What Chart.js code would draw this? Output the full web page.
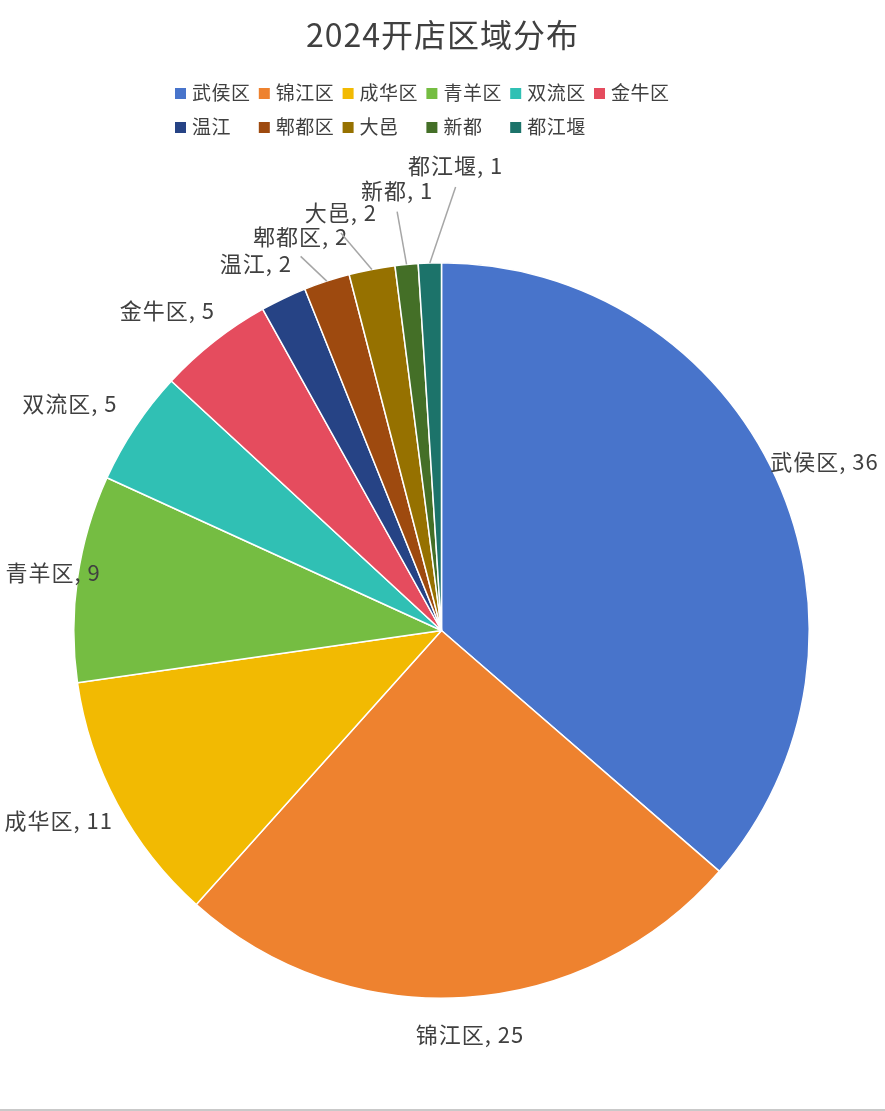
<!DOCTYPE html>
<html>
<head>
<meta charset="utf-8">
<script src="https://cdn.jsdelivr.net/npm/chart.js@4.4.1/dist/chart.umd.min.js"></script>
<style>
html, body { margin: 0; padding: 0; background: #fff; }
#wrap { width: 885px; height: 1111px; position: relative; overflow: hidden; }
#wrap:after { content: ''; position: absolute; left: 0; right: 0; bottom: 0; height: 2px; background: #c9c9c9; }
</style>
</head>
<body>
<div id="wrap"><canvas id="myChart" width="885" height="1111"></canvas></div>
<script>
var chartTitle = '2024开店区域分布';
var areas = ['武侯区', '锦江区', '成华区', '青羊区', '双流区', '金牛区', '温江', '郫都区', '大邑', '新都', '都江堰'];
var storeCounts = [36, 25, 11, 9, 5, 5, 2, 2, 2, 1, 1];
var sliceColors = ['#4874CB', '#EE822F', '#F2BA02', '#75BD42', '#30C0B4', '#E54C5E',
                   '#264385', '#9E4A0F', '#967100', '#446F27', '#1C736A'];

// where each data label sits: distance past the rim, sideways nudge (px)
var labelGap = [4, 26, 15, -22, 31, 28, 28, 36, 50, 63, 85];
var labelNudge = [-11, 0, -5, 7, 0, 0, 0, 0, -15, 0, 30];

var FONT = '"Noto Sans CJK SC", "Microsoft YaHei", sans-serif';
var TEXT_COLOR = '#404040';

// title + grid legend (Excel style, 6 columns)
var headerPlugin = {
  id: 'header',
  afterDraw: function (chart) {
    var ctx = chart.ctx;
    ctx.save();
    ctx.fillStyle = TEXT_COLOR;
    ctx.font = '32px ' + FONT;
    ctx.letterSpacing = '1px';
    ctx.textAlign = 'center';
    ctx.textBaseline = 'middle';
    ctx.fillText(chartTitle, chart.width / 2, 35);

    ctx.font = '19px ' + FONT;
    ctx.letterSpacing = '0.5px';
    ctx.textAlign = 'left';
    areas.forEach(function (name, i) {
      var col = i % 6;
      var row = Math.floor(i / 6);
      var x = 175 + col * 83.8;
      var y = 93 + row * 34;
      ctx.fillStyle = sliceColors[i];
      ctx.fillRect(x, y - 5, 11, 11);
      ctx.fillStyle = TEXT_COLOR;
      ctx.fillText(name, x + 17, y);
    });
    ctx.restore();
  }
};

// data labels outside the pie, with leader lines for the far ones
var labelPlugin = {
  id: 'sliceLabels',
  afterDatasetsDraw: function (chart) {
    var ctx = chart.ctx;
    var arcs = chart.getDatasetMeta(0).data;
    ctx.save();
    ctx.font = '22px ' + FONT;
    ctx.letterSpacing = '1px';
    ctx.textAlign = 'center';
    ctx.textBaseline = 'middle';
    arcs.forEach(function (arc, i) {
      var a = (arc.startAngle + arc.endAngle) / 2;
      var cos = Math.cos(a), sin = Math.sin(a);
      var r = arc.outerRadius;
      var text = areas[i] + ', ' + storeCounts[i];
      var w = ctx.measureText(text).width;
      var h = 22;
      var px = arc.x + (r + labelGap[i]) * cos - sin * labelNudge[i];
      var py = arc.y + (r + labelGap[i]) * sin + cos * labelNudge[i];
      var cx = px + cos * w / 2;
      var cy = py + sin * h / 2;

      if (labelGap[i] > 32) {
        ctx.strokeStyle = '#a6a6a6';
        ctx.lineWidth = 1.5;
        ctx.beginPath();
        ctx.moveTo(cx, cy - sin * (h / 2 + 10));
        ctx.lineTo(arc.x + r * cos, arc.y + r * sin);
        ctx.stroke();
      }
      ctx.fillStyle = TEXT_COLOR;
      ctx.fillText(text, cx, cy);
    });
    ctx.restore();
  }
};

new Chart('myChart', {
  type: 'pie',
  data: {
    labels: areas,
    datasets: [{
      data: storeCounts,
      backgroundColor: sliceColors,
      borderColor: '#ffffff',
      borderWidth: 1.5
    }]
  },
  options: {
    responsive: false,
    animation: false,
    layout: { padding: { left: 73, right: 75, top: 262, bottom: 112 } },
    plugins: {
      legend: { display: false },
      title: { display: false },
      tooltip: { enabled: false }
    }
  },
  plugins: [headerPlugin, labelPlugin]
});
</script>
</body>
</html>
